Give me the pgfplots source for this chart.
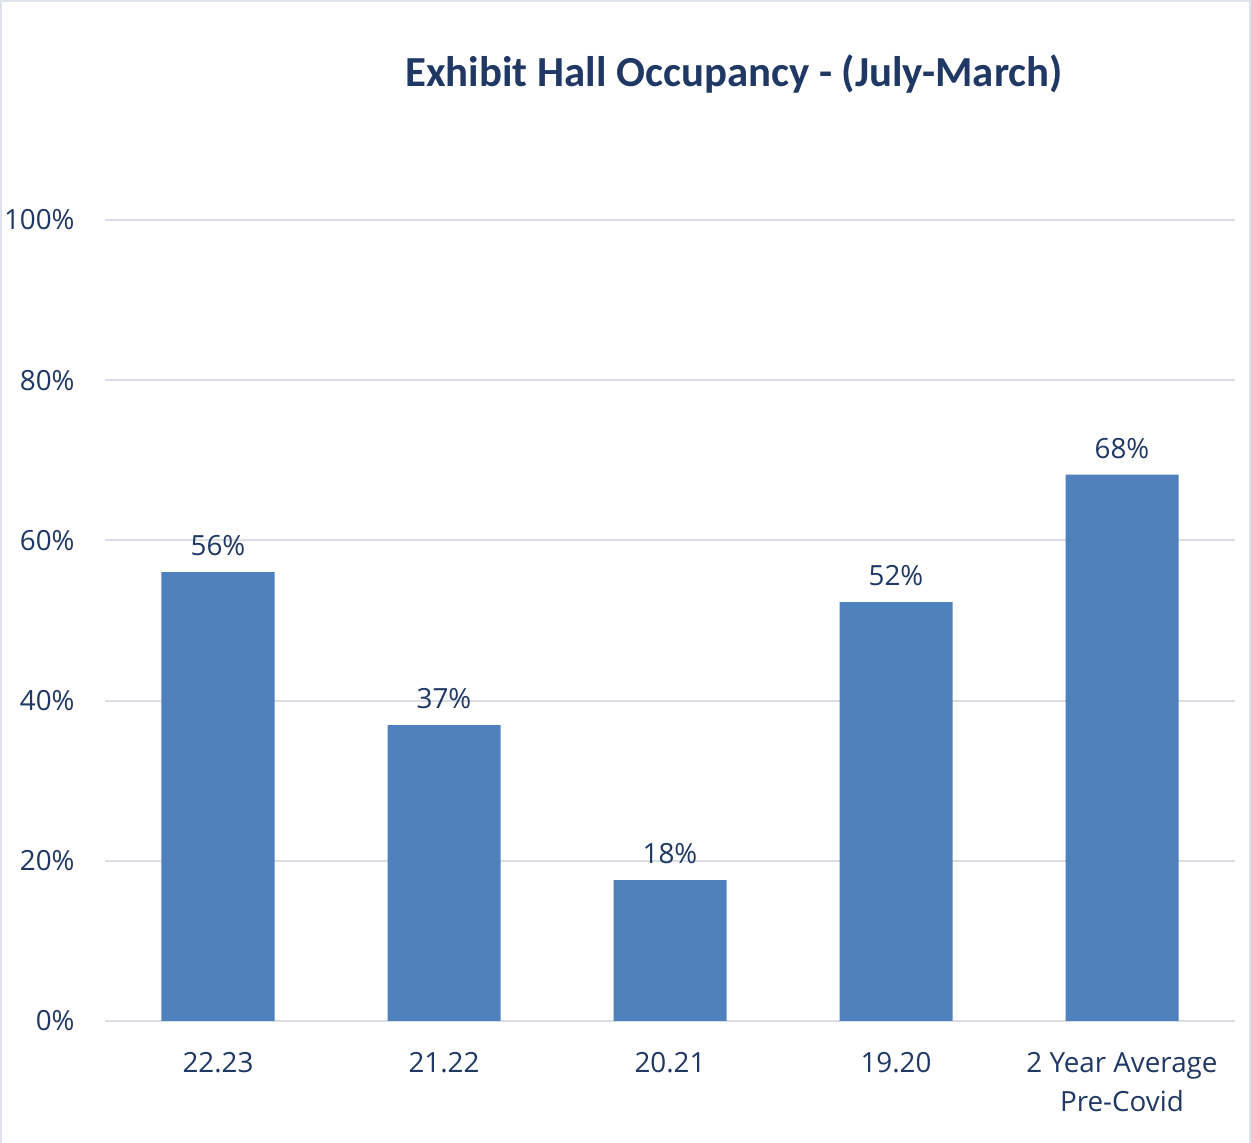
\documentclass[border=0pt]{standalone}
\usepackage{pgfplots}
\pgfplotsset{compat=1.18}
\usepackage{fontspec}
\setmainfont{Open Sans}
\newfontfamily\titlefont{Carlito}
\definecolor{txt}{HTML}{1F3864}
\definecolor{barc}{HTML}{4F81BD}
\definecolor{gridc}{HTML}{D9DDE4}
\definecolor{framec}{HTML}{DEE3EB}
\newdimen\px \px=0.5bp
\begin{document}
\begin{tikzpicture}
\useasboundingbox (-105\px,-122\px) rectangle (1146\px,1021\px);
\fill[white] (-105\px,-122\px) rectangle (1146\px,1021\px);
\draw[framec, line width=2.5\px] (-104\px,-122\px) -- (-104\px,1020\px) -- (1145\px,1020\px) -- (1145\px,-122\px);
\begin{axis}[
  at={(0,0)}, anchor=south west,
  scale only axis, width=1130\px, height=801\px,
  xmin=-0.5, xmax=4.5, ymin=0, ymax=100,
  axis line style={draw=none},
  major tick length=0pt,
  ymajorgrids, grid style={gridc, line width=2\px},
  ytick={0,20,40,60,80,100},
  yticklabels={0\%,20\%,40\%,60\%,80\%,100\%},
  yticklabel style={anchor=east, inner sep=0pt, xshift=-30\px, text=txt, font=\fontsize{13.9bp}{19.5bp}\selectfont},
  xtick={0,1,2,3,4},
  xticklabels={22.23,21.22,20.21,19.20,{2 Year Average\\Pre-Covid}},
  xticklabel style={anchor=north, inner sep=0pt, yshift=-31\px, align=center, text=txt, font=\fontsize{13.9bp}{19.5bp}\selectfont},
  ybar, bar width=113\px,
  /pgf/number format/assume math mode=true,
  nodes near coords={\pgfmathprintnumber[fixed,precision=0,assume math mode=true]{\pgfplotspointmeta}\%},
  every node near coord/.append style={anchor=south, inner sep=0pt, yshift=16\px, text=txt, font=\fontsize{13.9bp}{19.5bp}\selectfont},
  clip=false,
]
\addplot[fill=barc, draw=none] coordinates {(0,56.05) (1,36.95) (2,17.6) (3,52.3) (4,68.2)};
\end{axis}
\node[text=txt, font=\titlefont\bfseries\fontsize{21.4bp}{25bp}\selectfont, inner sep=0pt] at (629\px,947\px) {Exhibit Hall Occupancy - (July-March)};
\end{tikzpicture}
\end{document}
